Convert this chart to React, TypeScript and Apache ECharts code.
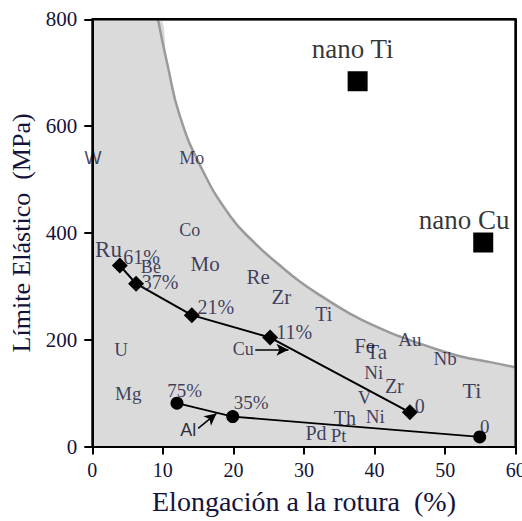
import React, { useEffect, useRef } from "react";
import * as echarts from "echarts";

// ---------- data ----------
const xAxisName = "Elongación a la rotura  (%)";
const yAxisName = "Límite Elástico  (MPa)";
const xMin = 0, xMax = 60, xStep = 10;
const yMin = 0, yMax = 800, yStep = 200;

// boundary of the shaded region (elongation %, yield MPa)
const boundaryX = [9.3, 10.7, 12.4, 15.3, 19.5, 23.1, 26.6, 29.4, 32.3, 36.5, 40.8, 43.6, 47.9, 52.1, 56.4, 60];
const boundaryY = [800, 712, 619, 526, 432, 380, 339, 309, 283, 249, 221, 206, 186, 169, 158, 148];

// Ru series (diamonds)
const ruX = [3.9, 6.2, 14.1, 25.2, 45.0];
const ruY = [339, 305, 246, 204, 64];
const ruTags = ["61%", "37%", "21%", "11%", "0"];
const ruTagX = [7.0, 9.6, 17.5, 28.6, 46.4];
const ruTagY = [354, 308, 261, 214, 76];

// Al series (circles)
const alX = [12.0, 19.9, 54.9];
const alY = [81, 56, 18];
const alTags = ["75%", "35%", "0"];
const alTagX = [13.1, 22.5, 55.6];
const alTagY = [105, 82, 37];

// nano materials
const nanoNames = ["nano Ti", "nano Cu"];
const nanoX = [37.6, 55.4];
const nanoY = [684, 382];
const nanoTagX = [36.9, 52.7];
const nanoTagY = [744, 425];

// element labels [name, x, y]
const elementLabels: [string, number, number][] = [
  ["W", 0.1, 541],
  ["Mo", 14.1, 541],
  ["Co", 13.8, 405],
  ["Mo", 16.0, 342],
  ["Be", 8.3, 336],
  ["Re", 23.5, 317],
  ["Zr", 26.8, 280],
  ["Ti", 32.8, 249],
  ["U", 4.1, 182],
  ["Mg", 5.1, 99],
  ["Fe", 38.6, 188],
  ["Ta", 40.3, 177],
  ["Au", 45.0, 201],
  ["Nb", 50.0, 164],
  ["Ni", 39.9, 138],
  ["Zr", 42.8, 113],
  ["Ti", 53.8, 104],
  ["V", 38.6, 92],
  ["Ni", 40.1, 57],
  ["Th", 35.8, 53],
  ["Pd", 31.7, 25],
  ["Pt", 34.9, 21],
];
const ruName: [string, number, number] = ["Ru", 2.3, 369];
const cuName: [string, number, number] = ["Cu", 21.4, 182];
const alName: [string, number, number] = ["Al", 13.6, 30];

// arrows
const cuArrow: [number, number][] = [[23.1, 181], [27.8, 181]];
const alArrow: [number, number][] = [[15.0, 34], [17.6, 62]];

// ---------- styles ----------
const SERIF = "'Liberation Serif', 'DejaVu Serif', serif";
const SANS = "'Liberation Sans', Arial, sans-serif";
const TEXT = "#14143a";
const elementSizes = [18, 18, 18, 21, 18, 21, 21, 20, 19, 19, 21, 21, 19, 19, 19, 20, 22, 19, 19, 20, 20, 19];
const elementFonts = elementLabels.map((l) => (l[0] === "W" ? SANS : SERIF));

export default function App() {
  const ref = useRef<HTMLDivElement>(null);
  useEffect(() => {
    if (!ref.current) return;
    const chart = echarts.init(ref.current, null, { renderer: "svg" });

    const areaData = [[xMin, yMax], ...boundaryX.map((x, i) => [x, boundaryY[i]])];
    const curveData = boundaryX.map((x, i) => [x, boundaryY[i]]);
    const frameData = [
      [xMin, yMax],
      [xMax, yMax],
      [xMax, yMin],
    ];

    const textItem = (name: string, x: number, y: number, size: number, font = SERIF, color = TEXT) => ({
      name,
      value: [x, y],
      label: { fontSize: size, fontFamily: font, color },
    });

    const labelData = [
      ...elementLabels.map((l, i) => textItem(l[0], l[1], l[2], elementSizes[i], elementFonts[i])),
      ...ruTags.map((t, i) => textItem(t, ruTagX[i], ruTagY[i], 20)),
      ...alTags.map((t, i) => textItem(t, alTagX[i], alTagY[i], 19)),
      ...nanoNames.map((t, i) => textItem(t, nanoTagX[i], nanoTagY[i], 27, SERIF, "#000")),
      textItem(ruName[0], ruName[1], ruName[2], 23),
      textItem(cuName[0], cuName[1], cuName[2], 18),
      textItem(alName[0], alName[1], alName[2], 18, SANS, "#000"),
    ];

    const axisLine = { show: true, onZero: false, lineStyle: { color: "#000", width: 2 } };

    chart.setOption({
      animation: false,
      backgroundColor: "#fff",
      grid: {
        left: 92.3,
        right: 6.3,
        top: 19.3,
        bottom: 74.5,
        containLabel: false,
        outerBoundsMode: "none",
        show: true,
        backgroundColor: "rgba(0,0,0,0)",
        borderColor: "#000",
        borderWidth: 2,
      },
      xAxis: {
        type: "value",
        z: 10,
        min: xMin,
        max: xMax,
        interval: xStep,
        position: "bottom",
        splitLine: { show: false },
        axisLine,
        name: xAxisName,
        nameLocation: "middle",
        nameGap: 41,
        nameTextStyle: { fontFamily: SERIF, fontSize: 28, color: TEXT },
        axisTick: { show: true, inside: false, length: 8, lineStyle: { color: "#000", width: 2 } },
        axisLabel: { margin: 13, fontFamily: SERIF, fontSize: 20, color: TEXT },
      },
      yAxis: {
        type: "value",
        z: 10,
        min: yMin,
        max: yMax,
        interval: yStep,
        position: "left",
        splitLine: { show: false },
        axisLine,
        name: yAxisName,
        nameLocation: "middle",
        nameGap: 58,
        nameTextStyle: { fontFamily: SERIF, fontSize: 26, color: TEXT },
        axisTick: { show: true, inside: false, length: 8, lineStyle: { color: "#000", width: 2 } },
        axisLabel: { margin: 15, fontFamily: SERIF, fontSize: 21, color: TEXT },
      },
      series: [
        {
          type: "line",
          data: areaData,
          symbol: "none",
          smooth: 0.5,
          lineStyle: { width: 0, opacity: 0 },
          areaStyle: { color: "#dadada", opacity: 1, origin: "start" },
          silent: true,
          z: 1,
        },
        {
          type: "line",
          data: curveData,
          symbol: "none",
          smooth: 0.5,
          lineStyle: { color: "#9a9a9a", width: 2.5 },
          silent: true,
          z: 2,
        },
        {
          // plot frame, top and right edges
          type: "line",
          data: frameData,
          symbol: "none",
          clip: false,
          silent: true,
          lineStyle: { color: "#000", width: 2.5 },
          z: 20,
        },
        {
          type: "line",
          data: ruX.map((x, i) => [x, ruY[i]]),
          symbol: "diamond",
          symbolSize: 16,
          itemStyle: { color: "#000", opacity: 1 },
          lineStyle: { color: "#000", width: 2 },
          z: 5,
          markLine: {
            silent: true,
            symbol: ["none", "arrow"],
            symbolSize: [9, 12],
            label: { show: false },
            lineStyle: { color: "#000", width: 1.5, type: "solid" },
            data: [
              [{ coord: cuArrow[0] }, { coord: cuArrow[1] }],
              [{ coord: alArrow[0] }, { coord: alArrow[1] }],
            ],
          },
        },
        {
          type: "line",
          data: alX.map((x, i) => [x, alY[i]]),
          symbol: "circle",
          symbolSize: 13,
          itemStyle: { color: "#000", opacity: 1 },
          lineStyle: { color: "#000", width: 1.8 },
          z: 5,
        },
        {
          type: "scatter",
          data: nanoX.map((x, i) => [x, nanoY[i]]),
          symbol: "rect",
          symbolSize: 20,
          itemStyle: { color: "#000", opacity: 1 },
          z: 5,
        },
        {
          type: "scatter",
          data: labelData,
          symbolSize: 0,
          z: 6,
          silent: true,
          label: {
            show: true,
            position: "inside",
            formatter: "{b}",
            align: "center",
            verticalAlign: "middle",
          },
        },
      ],
    });
    return () => chart.dispose();
  }, []);
  return <div ref={ref} style={{ position: "fixed", left: 0, top: 0, width: 522, height: 521 }} />;
}
